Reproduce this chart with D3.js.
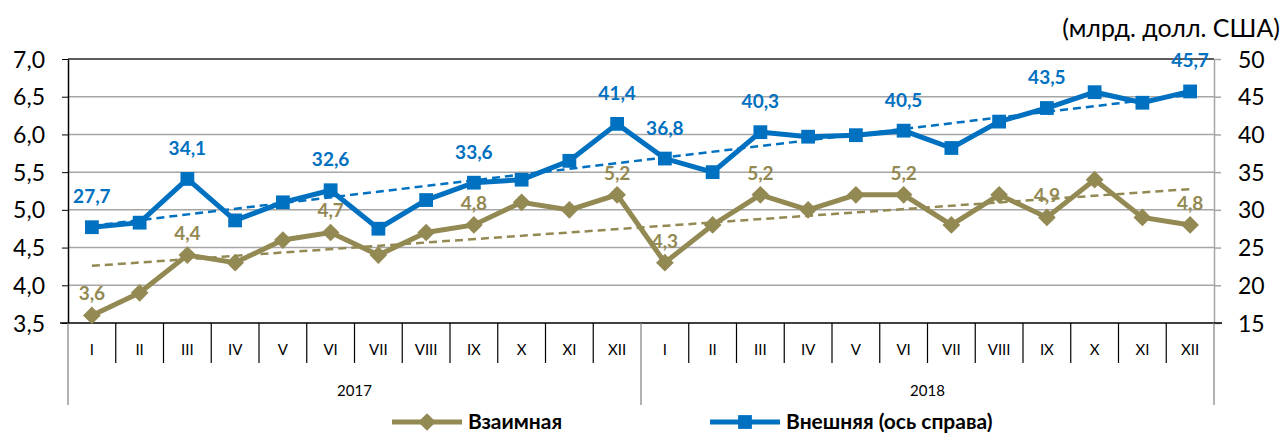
<!DOCTYPE html>
<html lang="ru">
<head>
<meta charset="utf-8">
<title>Взаимная и внешняя торговля</title>
<script src="https://d3js.org/d3.v7.min.js"></script>
<style>
  body { margin: 0; background: #fff; }
  svg { display: block; }
  .tick-lbl { font-family: Lato, "Noto Sans", sans-serif; font-size: 23px; fill: #000; }
  .unit { font-family: Lato, "Noto Sans", sans-serif; font-size: 25px; fill: #000; }
  .month { font-family: Lato, "Noto Sans", sans-serif; font-size: 15px; fill: #000; }
  .lbl { font-family: Lato, "Noto Sans", sans-serif; font-size: 19px; font-weight: bold; }
  .legend { font-family: Lato, "Noto Sans", sans-serif; font-size: 21px; font-weight: bold; fill: #000; }
</style>
</head>
<body>
<svg width="1284" height="435"></svg>
<script>
// data
const months = ["I","II","III","IV","V","VI","VII","VIII","IX","X","XI","XII"];
const years = ["2017", "2018"];
const mutual = [3.6,3.9,4.4,4.3,4.6,4.7,4.4,4.7,4.8,5.1,5.0,5.2,
                4.3,4.8,5.2,5.0,5.2,5.2,4.8,5.2,4.9,5.4,4.9,4.8];
const external = [27.7,28.3,34.1,28.6,31.0,32.6,27.5,31.3,33.6,34.0,36.5,41.4,
                  36.8,35.0,40.3,39.7,39.9,40.5,38.2,41.7,43.5,45.6,44.2,45.7];
// which points carry a value label
const labelIdx = [0,2,5,8,11,12,14,17,20,23];
const leftTicks = [3.5,4.0,4.5,5.0,5.5,6.0,6.5,7.0];
const rightTicks = [15,20,25,30,35,40,45,50];

const gold = "#938953", blue = "#0070C0";
const svg = d3.select("svg");
const L = 68, R = 1214, T = 59, B = 323;

const cats = d3.range(24);
const x = d3.scaleBand().domain(cats).range([L, R]);
const cx = i => x(i) + x.bandwidth() / 2;
const yL = d3.scaleLinear().domain([3.5, 7]).range([B, T]);
const yR = d3.scaleLinear().domain([15, 50]).range([B, T]);
const fmt = v => d3.format(".1f")(v).replace(".", ",");

// gridlines
svg.append("g").selectAll("line").data(leftTicks.slice(1, -1)).join("line")
  .attr("x1", L).attr("x2", R).attr("y1", d => yL(d)).attr("y2", d => yL(d))
  .attr("stroke", "#a6a6a6").attr("stroke-width", 1.5);
svg.append("line").attr("x1", L).attr("x2", R).attr("y1", T).attr("y2", T)
  .attr("stroke", "#262626").attr("stroke-width", 1.5);

// left axis
svg.append("g").attr("transform", `translate(${L},0)`)
  .call(d3.axisLeft(yL).tickValues(leftTicks).tickSize(6).tickFormat(fmt).tickSizeOuter(0))
  .call(g => g.select(".domain").attr("stroke", "#000").attr("stroke-width", 1.5))
  .call(g => g.selectAll(".tick line").attr("stroke", "#000"))
  .call(g => g.selectAll("text").attr("class", "tick-lbl").attr("x", -23).attr("dy", "0.35em"));

// right axis
svg.append("g").attr("transform", `translate(${R},0)`)
  .call(d3.axisRight(yR).tickValues(rightTicks).tickSize(7).tickSizeOuter(0))
  .call(g => g.select(".domain").attr("stroke", "#a6a6a6").attr("stroke-width", 1.5))
  .call(g => g.selectAll(".tick line").attr("stroke", "#a6a6a6").attr("stroke-width", 1.5))
  .call(g => g.selectAll("text").attr("class", "tick-lbl").attr("x", 24).attr("dy", "0.35em"));

svg.append("text").attr("class", "unit").attr("x", 1280).attr("y", 37)
  .attr("text-anchor", "end").text("(млрд. долл. США)");

// category axis
svg.append("line").attr("x1", L - 8).attr("x2", R + 8).attr("y1", B).attr("y2", B)
  .attr("stroke", "#000").attr("stroke-width", 1.5);
const cat = svg.append("g");
cat.selectAll("line.sep").data(d3.range(1, 24).filter(i => i !== 12)).join("line")
  .attr("x1", i => x(i)).attr("x2", i => x(i)).attr("y1", B).attr("y2", 363)
  .attr("stroke", "#000").attr("stroke-width", 1.2);
cat.selectAll("line.yr").data([0, 12, 24]).join("line")
  .attr("x1", i => i === 24 ? R : x(i)).attr("x2", i => i === 24 ? R : x(i))
  .attr("y1", B).attr("y2", 405).attr("stroke", "#7f7f7f").attr("stroke-width", 1.2);
cat.selectAll("text.m").data(cats).join("text").attr("class", "month")
  .attr("x", cx).attr("y", 355).attr("text-anchor", "middle").text(i => months[i % 12]);
cat.selectAll("text.y").data(years).join("text").attr("class", "month")
  .attr("x", (d, k) => (x(k * 12) + (k === 0 ? x(12) : R)) / 2).attr("y", 396)
  .attr("text-anchor", "middle").text(d => d);

// linear trend (least squares)
function trend(vals) {
  const mx = d3.mean(cats), my = d3.mean(vals);
  const b = d3.sum(cats, i => (i - mx) * (vals[i] - my)) / d3.sum(cats, i => (i - mx) ** 2);
  return i => my + b * (i - mx);
}
const tM = trend(mutual), tE = trend(external);
svg.append("line").attr("x1", cx(0)).attr("x2", cx(23)).attr("y1", yL(tM(0))).attr("y2", yL(tM(23)))
  .attr("stroke", gold).attr("stroke-width", 2.5).attr("stroke-dasharray", "8,5");
svg.append("line").attr("x1", cx(0)).attr("x2", cx(23)).attr("y1", yR(tE(0))).attr("y2", yR(tE(23)))
  .attr("stroke", blue).attr("stroke-width", 2.5).attr("stroke-dasharray", "8,5");

// series lines
const lineM = d3.line().x(cx).y(i => yL(mutual[i]));
const lineE = d3.line().x(cx).y(i => yR(external[i]));
svg.append("path").attr("d", lineM(cats)).attr("fill", "none").attr("stroke", gold).attr("stroke-width", 5);
svg.append("path").attr("d", lineE(cats)).attr("fill", "none").attr("stroke", blue).attr("stroke-width", 5);

const diamond = d3.symbol().type(d3.symbolDiamond2).size(200);
const square = d3.symbol().type(d3.symbolSquare).size(190);
svg.append("g").selectAll("path").data(cats).join("path")
  .attr("d", diamond).attr("transform", i => `translate(${cx(i)},${yL(mutual[i])})`).attr("fill", gold);
svg.append("g").selectAll("path").data(cats).join("path")
  .attr("d", square).attr("transform", i => `translate(${cx(i)},${yR(external[i])})`).attr("fill", blue);

// value labels
svg.append("g").selectAll("text").data(labelIdx).join("text").attr("class", "lbl")
  .attr("x", cx).attr("y", i => yL(mutual[i]) - 15).attr("text-anchor", "middle")
  .attr("fill", gold).text(i => fmt(mutual[i]));
svg.append("g").selectAll("text").data(labelIdx).join("text").attr("class", "lbl")
  .attr("x", cx).attr("y", i => yR(external[i]) - 24).attr("text-anchor", "middle")
  .attr("fill", blue).text(i => fmt(external[i]));

// legend
const lg = svg.append("g");
lg.append("line").attr("x1", 392).attr("x2", 462).attr("y1", 422).attr("y2", 422).attr("stroke", gold).attr("stroke-width", 5);
lg.append("path").attr("d", diamond).attr("transform", "translate(427,422)").attr("fill", gold);
lg.append("text").attr("class", "legend").attr("x", 468).attr("y", 429).text("Взаимная");
lg.append("line").attr("x1", 710).attr("x2", 780).attr("y1", 422).attr("y2", 422).attr("stroke", blue).attr("stroke-width", 5);
lg.append("path").attr("d", square).attr("transform", "translate(745,422)").attr("fill", blue);
lg.append("text").attr("class", "legend").attr("x", 786).attr("y", 429).text("Внешняя (ось справа)");
</script>
</body>
</html>
